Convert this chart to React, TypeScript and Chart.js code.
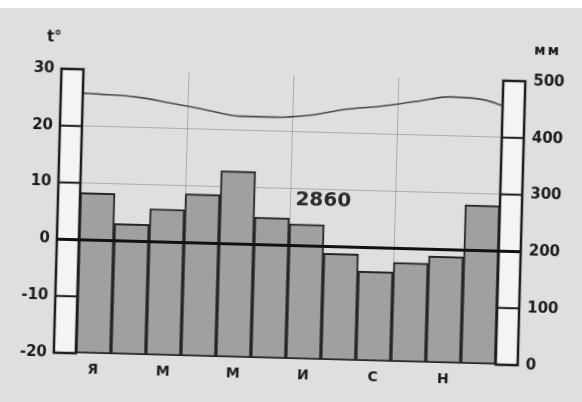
import React, { useEffect, useRef } from "react";
import { Chart, registerables } from "chart.js";

Chart.register(...registerables);

// ---- data ----
const months = ["Я", "Ф", "М", "А", "М", "И", "И", "А", "С", "О", "Н", "Д"];
const precipitation = [283, 230, 258, 286, 328, 248, 238, 188, 158, 175, 188, 280];
const temperature = [25.7, 25.4, 24.5, 23.5, 22.5, 22.5, 23.0, 24.2, 24.9, 25.9, 26.9, 26.5];
const temperatureAtYearStart = 25.8;
const temperatureAtYearEnd = 25.6;
const temperatureTicks = [-20, -10, 0, 10, 20, 30];
const precipitationTicks = [0, 100, 200, 300, 400, 500];
const temperatureUnit = "t°";
const precipitationUnit = "мм";
const annualTotal = "2860";

const INK = "#1c1c1c";
const FONT = "'DejaVu Sans', sans-serif";

export default function App() {
  const ref = useRef<HTMLCanvasElement>(null);

  useEffect(() => {
    document.body.style.margin = "0";
    const canvas = ref.current;
    if (!canvas) return;

    // line positions in half-month units: month i sits at 2i+1, year edges at 0 and 24
    const halfMonths = months.length * 2;
    const linePoints = [
      { x: 0, y: temperatureAtYearStart },
      ...temperature.map((t, i) => ({ x: 2 * i + 1, y: t })),
      { x: halfMonths, y: temperatureAtYearEnd },
    ];

    const columnsPlugin = {
      id: "climateColumns",
      afterDatasetsDraw(chart: any) {
        const { ctx, chartArea } = chart;
        const yT = chart.scales.yT;
        const yP = chart.scales.yP;
        const xT = chart.scales.xT;
        const colW = 22;
        ctx.save();

        const drawColumn = (x0: number, scale: any, ticks: number[]) => {
          const top = scale.getPixelForValue(scale.max);
          const bottom = scale.getPixelForValue(scale.min);
          ctx.fillStyle = "#f4f4f4";
          ctx.fillRect(x0, top, colW, bottom - top);
          ctx.strokeStyle = INK;
          ctx.lineWidth = 2.5;
          ctx.strokeRect(x0, top, colW, bottom - top);
          ctx.lineWidth = 2;
          ticks.forEach((v) => {
            const y = scale.getPixelForValue(v);
            ctx.beginPath();
            ctx.moveTo(x0, y);
            ctx.lineTo(x0 + colW, y);
            ctx.stroke();
          });
        };
        drawColumn(chartArea.left - colW, yT, temperatureTicks);
        drawColumn(chartArea.right, yP, precipitationTicks);

        // zero-degree line
        const y0 = yT.getPixelForValue(0);
        ctx.strokeStyle = "#111";
        ctx.lineWidth = 3;
        ctx.beginPath();
        ctx.moveTo(chartArea.left - colW, y0);
        ctx.lineTo(chartArea.right + colW, y0);
        ctx.stroke();

        // texts
        ctx.fillStyle = INK;
        ctx.textBaseline = "middle";
        ctx.font = `bold 15px ${FONT}`;
        ctx.textAlign = "center";
        ctx.fillText(temperatureUnit, chartArea.left - 30, chartArea.top - 31);
        ctx.font = `bold 14px ${FONT}`;
        ctx.textAlign = "left";
        (ctx as any).letterSpacing = "2px";
        ctx.fillText(precipitationUnit, chartArea.right + 30, chartArea.top - 31);
        (ctx as any).letterSpacing = "0px";
        ctx.font = `bold 20px ${FONT}`;
        ctx.textAlign = "center";
        ctx.fillStyle = "#2a2a2a";
        ctx.fillText(annualTotal, xT.getPixelForValue(13.9), yT.getPixelForValue(8));
        ctx.restore();
      },
    };

    const chart = new Chart(canvas, {
      type: "bar",
      data: {
        labels: months,
        datasets: [
          {
            type: "line",
            data: linePoints as any,
            xAxisID: "xT",
            yAxisID: "yT",
            borderColor: "#4a4a4a",
            borderWidth: 1.6,
            pointRadius: 0,
            tension: 0.4,
            cubicInterpolationMode: "monotone",
            order: 1,
          } as any,
          {
            type: "bar",
            data: precipitation,
            xAxisID: "x",
            yAxisID: "yP",
            backgroundColor: "#a0a0a0",
            borderColor: "#262626",
            borderWidth: 2,
            borderSkipped: false,
            grouped: false,
            barPercentage: 1,
            categoryPercentage: 1,
            order: 2,
          } as any,
        ],
      },
      options: {
        animation: false,
        responsive: false,
        maintainAspectRatio: false,
        layout: { padding: { top: 75, left: 0, right: 0, bottom: 0 } },
        plugins: { legend: { display: false }, tooltip: { enabled: false } },
        scales: {
          x: {
            type: "category",
            position: "bottom",
            border: { display: false },
            grid: {
              offset: true,
              drawTicks: false,
              lineWidth: 1,
              color: (c: any) => ([3, 6, 9].includes(c.index) ? "rgba(110,110,110,0.45)" : "rgba(0,0,0,0)"),
            },
            ticks: {
              autoSkip: false,
              maxRotation: 0,
              padding: 8,
              color: INK,
              font: { family: FONT, size: 14, weight: "bold" },
              callback: (_v: any, i: number) => (i % 2 === 0 ? months[i] : ""),
            },
            afterFit: (s: any) => {
              s.height = 43;
            },
          },
          xT: {
            type: "linear",
            min: 0,
            max: halfMonths,
            offset: false,
            display: false,
            grid: { offset: false },
          },
          yT: {
            type: "linear",
            position: "left",
            min: -20,
            max: 30,
            border: { display: false },
            grid: {
              drawTicks: false,
              lineWidth: 1,
              color: (c: any) =>
                c.tick && (c.tick.value === 10 || c.tick.value === 20) ? "rgba(110,110,110,0.45)" : "rgba(0,0,0,0)",
            },
            ticks: {
              stepSize: 10,
              padding: 29,
              color: INK,
              font: { family: FONT, size: 15, weight: "bold" },
            },
            afterFit: (s: any) => {
              s.width = 80;
            },
          },
          yP: {
            type: "linear",
            position: "right",
            min: 0,
            max: 500,
            border: { display: false },
            grid: { display: false, drawTicks: false },
            ticks: {
              stepSize: 100,
              padding: 30,
              color: INK,
              font: { family: FONT, size: 15, weight: "bold" },
            },
            afterFit: (s: any) => {
              s.width = 82;
            },
          },
        },
      },
      plugins: [columnsPlugin],
    });

    return () => chart.destroy();
  }, []);

  return (
    <div
      style={{
        position: "fixed",
        left: 0,
        top: 0,
        width: 582,
        height: 402,
        overflow: "hidden",
        background: "linear-gradient(#ffffff 0px, #ffffff 8px, #dfdfdf 8px, #dfdfdf 100%)",
      }}
    >
      <div
        style={{
          position: "absolute",
          left: 0,
          top: 0,
          width: 582,
          height: 402,
          transform: "rotate(1.55deg)",
          transformOrigin: "291px 201px",
        }}
      >
        <canvas ref={ref} width={582} height={402} style={{ display: "block" }} />
      </div>
    </div>
  );
}
